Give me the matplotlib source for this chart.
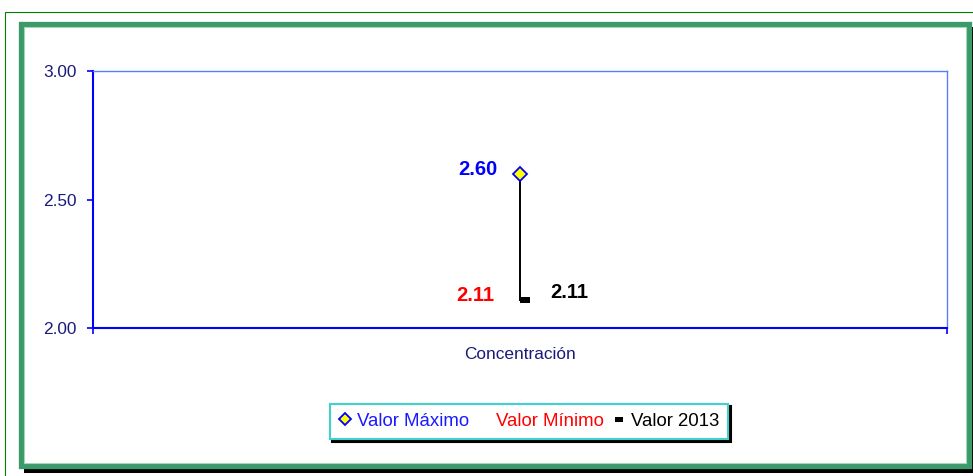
import matplotlib.pyplot as plt
from matplotlib.lines import Line2D
from matplotlib.patches import Rectangle
from matplotlib.path import Path

plt.rcParams['font.family'] = ['Liberation Sans', 'DejaVu Sans']

# Datos
categorias = ['Concentración']
valor_maximo = [2.60]
valor_minimo = [2.11]
valor_2013 = [2.11]
y_ticks = [2.00, 2.50, 3.00]
series_nombres = ['Valor Máximo', 'Valor Mínimo', 'Valor 2013']

W, H = 973, 476
fig = plt.figure(figsize=(W / 100, H / 100), dpi=100)


def fx(x):
    return x / W


def fy(y):
    return 1 - y / H


# Marcos verdes del gráfico (en píxeles de la figura)
fig.patches.append(Rectangle((fx(4.5), fy(600)), fx(1100), fy(11.5) - fy(600),
                             transform=fig.transFigure, fill=False,
                             edgecolor='#008000', linewidth=0.8))
# sombra negra del marco
fig.patches.append(Rectangle((fx(24), fy(473)), fx(972 - 24), fy(467) - fy(473),
                             transform=fig.transFigure, facecolor='black', edgecolor='none'))
fig.patches.append(Rectangle((fx(968), fy(473)), fx(6), fy(27) - fy(473),
                             transform=fig.transFigure, facecolor='black', edgecolor='none'))
fig.patches.append(Rectangle((fx(20.5), fy(466)), fx(969 - 20.5), fy(23.5) - fy(466),
                             transform=fig.transFigure, fill=False,
                             edgecolor='#3a9a6a', linewidth=3.8))
fig.patches.append(Rectangle((fx(23.5), fy(463)), fx(966 - 23.5), fy(26.5) - fy(463),
                             transform=fig.transFigure, fill=False,
                             edgecolor='#a8d4b8', linewidth=0.8))

ax = fig.add_axes([fx(93), fy(328), fx(947 - 93), fy(71) - fy(328)])
ax.set_facecolor('white')

x = list(range(len(categorias)))

# línea alto-bajo
for xi, lo, hi in zip(x, valor_minimo, valor_maximo):
    ax.plot([xi, xi], [lo, hi], color='black', linewidth=1.4, zorder=2)

# marcador del valor 2013 (barra a la derecha de la línea)
dash = Path([(0, -0.3), (1, -0.3), (1, 0.3), (0, 0.3), (0, -0.3)],
            [Path.MOVETO, Path.LINETO, Path.LINETO, Path.LINETO, Path.CLOSEPOLY])
ax.plot(x, valor_2013, linestyle='none', marker=dash, markersize=14.5,
        color='black', markeredgewidth=0, zorder=3)
ax.plot(x, valor_maximo, linestyle='none', marker='D', markersize=7,
        markerfacecolor='#ffff00', markeredgecolor='#0000ff',
        markeredgewidth=1.3, zorder=4)

# etiquetas de datos
lbl = dict(textcoords='offset points', va='center', fontsize=14.5, fontweight='bold')
for xi, v in zip(x, valor_maximo):
    ax.annotate(f'{v:.2f}', (xi, v), xytext=(-16.5, 3), ha='right', color='#0000ff', **lbl)
for xi, v in zip(x, valor_minimo):
    ax.annotate(f'{v:.2f}', (xi, v), xytext=(-18.5, 3), ha='right', color='#ff0000', **lbl)
for xi, v in zip(x, valor_2013):
    ax.annotate(f'{v:.2f}', (xi, v), xytext=(21.5, 5), ha='left', color='black', **lbl)

# ejes
ax.set_xlim(-0.5, len(categorias) - 0.5)
ax.set_ylim(y_ticks[0], y_ticks[-1])
ax.set_yticks(y_ticks)
ax.set_yticklabels([f'{t:.2f}' for t in y_ticks])
ax.set_xticks(x)
ax.set_xticklabels(categorias)
ax.set_xticks([i - 0.5 for i in range(len(categorias) + 1)], minor=True)

navy = '#1a1a78'
ax.tick_params(axis='y', direction='out', length=4, width=1.2, color='#0000ff',
               labelcolor=navy, labelsize=12.4, pad=8)
ax.tick_params(axis='x', which='major', length=0, labelcolor=navy, labelsize=12.4, pad=14)
ax.tick_params(axis='x', which='minor', direction='out', length=4, width=1.2, color='#0000ff')

for side in ['left', 'bottom']:
    ax.spines[side].set_color('#0000ff')
    ax.spines[side].set_linewidth(1.5)
for side in ['top', 'right']:
    ax.spines[side].set_color('#5a7cff')
    ax.spines[side].set_linewidth(1.0)

# leyenda
dash_leg = Path([(-1, -0.6), (1, -0.6), (1, 0.6), (-1, 0.6), (-1, -0.6)],
                [Path.MOVETO, Path.LINETO, Path.LINETO, Path.LINETO, Path.CLOSEPOLY])
h_max = Line2D([], [], linestyle='none', marker='D', markersize=6,
               markerfacecolor='#ffff00', markeredgecolor='#0000ff', markeredgewidth=1.3)
h_min = Line2D([], [], linestyle='none')
h_2013 = Line2D([], [], linestyle='none', marker=dash_leg, markersize=6,
                markerfacecolor='black', markeredgewidth=0)
leg = fig.legend([h_max, h_min, h_2013], series_nombres, ncol=3, loc='center',
                 bbox_to_anchor=(fx(529), fy(421.5)), bbox_transform=fig.transFigure,
                 fontsize=13.4, frameon=True, fancybox=False, framealpha=1,
                 edgecolor='#40d0d0', shadow={'color': 'black', 'alpha': 1},
                 handlelength=0.6, handletextpad=0.35, columnspacing=0.5,
                 borderpad=0.5)
leg.get_frame().set_linewidth(1.5)
for txt, col in zip(leg.get_texts(), ['#1a1aff', '#ff0000', 'black']):
    txt.set_color(col)

fig.savefig('out.png', dpi=100)
